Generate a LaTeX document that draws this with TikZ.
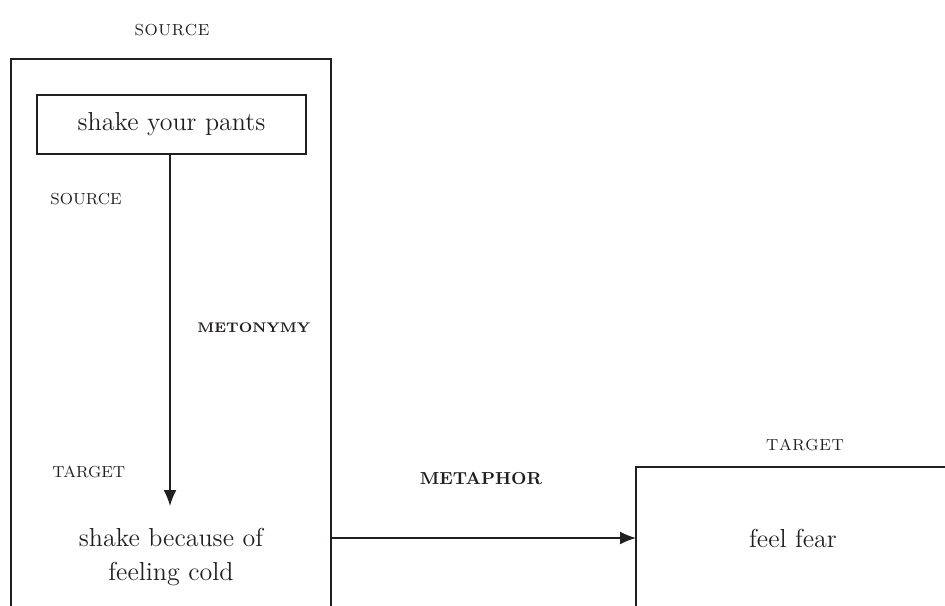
\documentclass[tikz,border=0pt]{standalone}
\usepackage{fontspec}
\usetikzlibrary{arrows.meta}
\definecolor{ink}{HTML}{231F20}
\tikzset{
  frame/.style={draw=ink, line width=0.8pt},
  phrase/.style={text=ink, inner sep=0pt, align=center,
    font=\fontsize{13}{17}\selectfont},
  caplabel/.style={text=ink, inner sep=0pt,
    font=\fontsize{8}{9}\selectfont},
  boldlabel/.style={text=ink, inner sep=0pt,
    font=\fontsize{7}{8}\selectfont\bfseries},
  maplink/.style={draw=ink, line width=0.8pt,
    -{Latex[length=8pt,width=6.5pt]}}
}
\begin{document}
\begin{tikzpicture}[x=0.5pt, y=-0.5pt]
  \useasboundingbox (0,0) rectangle (945,605);
  \clip (0,0) rectangle (945,605);

  % source domain frame, open at the bottom
  \coordinate (lfL) at (11,59);
  \coordinate (lfR) at (331,59);
  \draw[frame] (11,620) -- (lfL) -- (lfR) -- (331,620);
  \node[caplabel] (srcTop) at (172,30) {S\kern0.3pt O\kern0.3pt U\kern0.3pt R\kern0.3pt C\kern0.3pt E};

  % target domain frame, open at the bottom and right
  \coordinate (rfL) at (636,467);
  \draw[frame] (636,620) -- (rfL) -- (960,467);
  \node[caplabel] (tgtTop) at (805,445) {T\kern0.3pt A\kern0.3pt R\kern0.3pt G\kern0.3pt E\kern0.3pt T};

  % metonymy inside the source frame
  \node[frame, phrase, minimum width=134.5pt, minimum height=29.5pt]
    (pants) at (171.5,124.5) {shake your pants};
  \node[caplabel, anchor=west] (srcIn) at (50,199) {SOURCE};
  \node[caplabel, anchor=west] (tgtIn) at (52,472) {TARGET};
  \node[boldlabel, anchor=west] (meto) at (197,328) {METONYMY};
  \node[phrase] (cold) at (171,557) {shake because of\\feeling cold};
  \coordinate (metoTip) at (170,506);
  \draw[maplink] (pants.south -| metoTip) -- (metoTip);

  % metaphor from source to target
  \node[phrase] (fear) at (793,538) {feel fear};
  \node[boldlabel, font=\fontsize{8.7}{10}\selectfont\bfseries]
    (meta) at (481,479) {METAPHOR};
  \draw[maplink] (lfR |- fear) -- (rfL |- fear);
\end{tikzpicture}
\end{document}
